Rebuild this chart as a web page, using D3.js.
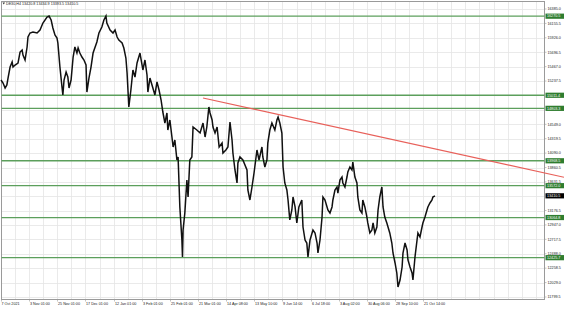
<!DOCTYPE html>
<html>
<head>
<meta charset="utf-8">
<script src="https://cdn.jsdelivr.net/npm/d3@7"></script>
<style>
  body { margin: 0; background: #fff; }
  text { font-family: "Liberation Sans", Arial, sans-serif; }
</style>
</head>
<body>
<div id="chart"></div>
<script>
const width = 564;
const height = 309;

// header
const symbolTitle = "DE30,H4";
const ohlcText = ["13420.8", "13434.9", "13393.5", "13410.5"];
const lastPrice = 13410.5;

// time axis labels, placed at bar numbers
const xLabels = ["7 Oct 2021", "3 Nov 01:00", "25 Nov 01:00", "17 Dec 01:00", "12 Jan 01:00",
  "3 Feb 01:00", "25 Feb 01:00", "21 Mar 01:00", "14 Apr 08:00", "13 May 10:00",
  "9 Jun 14:00", "6 Jul 18:00", "3 Aug 02:00", "30 Aug 06:00", "28 Sep 10:00", "21 Oct 14:00"];
const xLabelBars = [0, 96, 192, 288, 384, 480, 576, 672, 768, 864, 960, 1056, 1152, 1248, 1344, 1440];

// price scale labels
const yLabels = ["16385.0", "16155.5", "15926.0", "15696.5", "15467.0", "15237.5", "15008.0",
  "14778.5", "14549.0", "14319.5", "14090.0", "13860.5", "13631.5", "13402.0", "13176.5",
  "12947.0", "12717.5", "12488.0", "12258.5", "12029.0", "11799.5"];

// horizontal levels (green) and trend line (red)
const levels = [16270.5, 15011.4, 14803.3, 13968.5, 13572.0, 13064.8, 12425.7];
const trendBars = [689, 1497];
const trendPrices = [14968, 14140];

// price path, bar number and price
const bars = [0, 7, 14, 20, 24, 31, 38, 41, 48, 58, 65, 72, 75, 82, 89, 92, 99, 109, 123, 133,
  143, 157, 164, 171, 177, 184, 191, 194, 201, 208, 211, 215, 222, 228, 232, 239, 246, 252, 259, 263,
  269, 276, 283, 290, 293, 300, 307, 314, 327, 334, 344, 351, 358, 361, 372, 382, 389, 396, 402, 413,
  419, 426, 430, 436, 443, 450, 457, 464, 474,
  484, 491, 498, 501, 508, 515, 525, 532, 539, 546, 552, 559, 566, 569, 576, 583, 587, 593, 600, 604,
  610, 617, 619, 621, 627, 634, 638, 644, 651, 655, 668, 679, 689, 696, 702, 709, 713, 720, 723, 730,
  737, 744, 754, 757, 767, 774, 781, 788, 791, 798, 805, 808, 815, 825, 839, 842, 849, 856, 863, 873,
  880, 890, 893, 900, 907, 910, 917, 924, 934, 941, 945, 951, 958, 962, 968, 975, 979, 985, 992, 996,
  1003, 1009, 1016, 1026, 1030, 1037, 1043, 1047, 1054, 1064, 1071, 1078, 1081, 1088, 1095, 1098, 1105, 1112, 1115, 1122,
  1129, 1132, 1139, 1146, 1149, 1156, 1163, 1166, 1173, 1180, 1183, 1190, 1197, 1200, 1207, 1214, 1217, 1224, 1231, 1234,
  1241, 1248, 1251, 1258, 1265, 1269, 1275, 1282, 1286, 1292, 1299, 1303, 1309, 1316, 1320, 1326, 1333, 1337, 1344, 1350,
  1354, 1361, 1368, 1371, 1378, 1385, 1388, 1395, 1402, 1405, 1412, 1419, 1422, 1429, 1436, 1439, 1446, 1453, 1456, 1463,
  1470, 1473, 1480];
const prices = [15254, 15207, 15127, 15175, 15286, 15461, 15541, 15461, 15493, 15525, 15700, 15732, 15652, 15573, 15780, 15939, 16003, 16019, 16003, 16051,
  16162, 16257, 16273, 16210, 16082, 15971, 15923, 15844, 15461, 15143, 15016, 15254, 15382, 15302, 15127, 15254, 15620, 15780, 15684, 15764,
  15684, 15620, 15573, 15493, 15063, 15286, 15461, 15684, 15860, 16003, 16098, 16210, 16273, 16162, 16051, 16003, 16051, 15939, 15891, 15844,
  15764, 15605, 15366, 14825, 15095, 15414, 15302, 15525, 15684,
  15414, 15573, 15334, 15063, 15286, 15175, 15016, 15223, 15095, 14936, 14745, 14570, 14729, 14458, 14618, 14347, 14188, 14299, 13981, 14029,
  13233, 12707, 12437, 12866, 13137, 13662, 13392, 13981, 14029, 14506, 14458, 14411, 14570, 14347, 14506, 14825, 14729, 14618, 14506, 14411,
  14506, 14188, 14251, 14092, 14140, 14188, 14586, 14299, 14092, 13822, 13615, 13933, 14029, 13981, 13822, 13503, 13344, 13551, 13774, 14140,
  13981, 14188, 14029, 13869, 13981, 14251, 14458, 14570, 14458, 14618, 14665, 14570, 14411, 13869, 13615, 13503, 13344, 13026, 13185, 13392,
  13233, 12978, 13233, 13344, 12914, 12707, 12659, 12437, 12707, 12866, 12819, 12659, 12500, 12707, 13073, 13392, 13344, 13233, 13185, 13137,
  13233, 13344, 13503, 13551, 13455, 13662, 13710, 13615, 13551, 13710, 13790, 13869, 13822, 13949, 13710, 13615, 13392, 13185, 13137, 13344,
  13233, 13073, 12978, 12819, 12866, 12978, 12819, 12914, 13185, 13392, 13551, 13233, 13073, 12978, 12914, 12819, 12659, 12500, 12341, 12182,
  11959, 12070, 12277, 12500, 12659, 12548, 12389, 12277, 12182, 12070, 12437, 12707, 12819, 12755, 12914, 12978, 13073, 13185, 13233, 13296,
  13344, 13392, 13410];

const plot = { left: 1.5, top: 1.5, right: 544.5, bottom: 299.5 };
const fontSize = 3.7;

const svg = d3.select("#chart").append("svg")
  .attr("width", width)
  .attr("height", height)
  .style("display", "block");

svg.append("rect").attr("width", width).attr("height", height).attr("fill", "#fff");

const x = d3.scaleLinear().domain([0, 1852]).range([1, 544]);
const y = d3.scaleLinear().domain([11799.5, 16385]).range([297, 9]);

// grid
const grid = svg.append("g").attr("stroke", "#e4e4e4").attr("stroke-width", 0.8);
grid.selectAll("line.v")
  .data(d3.range(48, 1852, 48))
  .join("line")
  .attr("x1", d => Math.round(x(d)) + 0.5).attr("x2", d => Math.round(x(d)) + 0.5)
  .attr("y1", plot.top).attr("y2", plot.bottom);
grid.selectAll("line.h")
  .data(yLabels)
  .join("line")
  .attr("x1", plot.left).attr("x2", plot.right)
  .attr("y1", d => Math.round(y(+d)) + 0.5).attr("y2", d => Math.round(y(+d)) + 0.5);

// frame
svg.append("rect")
  .attr("x", plot.left).attr("y", plot.top)
  .attr("width", plot.right - plot.left).attr("height", plot.bottom - plot.top)
  .attr("fill", "none").attr("stroke", "#9a9a9a").attr("stroke-width", 1);

// green levels
svg.append("g").selectAll("line")
  .data(levels)
  .join("line")
  .attr("x1", plot.left).attr("x2", plot.right)
  .attr("y1", d => y(d)).attr("y2", d => y(d))
  .attr("stroke", "#5c9f5c").attr("stroke-width", 1.3);

// price path
const pts = bars.map((b, i) => [b, prices[i]]);
svg.append("path")
  .datum(pts)
  .attr("d", d3.line().x(d => x(d[0])).y(d => y(d[1])))
  .attr("fill", "none")
  .attr("stroke", "#111")
  .attr("stroke-width", 1.5)
  .attr("stroke-linejoin", "miter");

// red trend ray, extended to the right edge
const tx0 = x(trendBars[0]), ty0 = y(trendPrices[0]);
const slope = (y(trendPrices[1]) - ty0) / (x(trendBars[1]) - tx0);
svg.append("line")
  .attr("x1", tx0).attr("y1", ty0)
  .attr("x2", width).attr("y2", ty0 + slope * (width - tx0))
  .attr("stroke", "#e8605a").attr("stroke-width", 1.2);

// price scale labels (hidden where a tag sits)
const tagYs = levels.map(v => y(v)).concat([y(lastPrice)]);
const yAxis = svg.append("g").attr("font-size", fontSize).attr("fill", "#222");
yLabels.forEach(lbl => {
  const yy = y(+lbl);
  if (tagYs.some(t => Math.abs(t - yy) < 3.5)) return;
  yAxis.append("line")
    .attr("x1", plot.right).attr("x2", plot.right + 2)
    .attr("y1", yy).attr("y2", yy)
    .attr("stroke", "#9a9a9a").attr("stroke-width", 0.6);
  yAxis.append("text")
    .attr("x", plot.right + 3).attr("y", yy)
    .attr("dy", "0.35em")
    .text(lbl);
});

// tags
function tag(v, fill) {
  const yy = y(v);
  svg.append("rect")
    .attr("x", plot.right + 1).attr("y", yy - 2.6)
    .attr("width", 18.5).attr("height", 5.2)
    .attr("fill", fill);
  svg.append("text")
    .attr("x", plot.right + 2.5).attr("y", yy)
    .attr("dy", "0.35em")
    .attr("font-size", fontSize)
    .attr("fill", "#fff")
    .text(v.toFixed(1));
}
levels.forEach(v => tag(v, "#2f7d2f"));
tag(lastPrice, "#000");

// time axis labels
const xAxis = svg.append("g").attr("font-size", fontSize).attr("fill", "#222");
xLabels.forEach((lbl, i) => {
  const xx = Math.round(x(xLabelBars[i])) + 0.5;
  xAxis.append("line")
    .attr("x1", xx).attr("x2", xx)
    .attr("y1", plot.bottom).attr("y2", plot.bottom + 2)
    .attr("stroke", "#9a9a9a").attr("stroke-width", 0.6);
  xAxis.append("text")
    .attr("x", xx + (i === 0 ? 0 : 0.5)).attr("y", 304)
    .attr("dy", "0.35em")
    .text(lbl);
});

// header
svg.append("path")
  .attr("d", "M2.5,2.5 L5,2.5 L3.75,4.5 Z")
  .attr("fill", "#333");
svg.append("text")
  .attr("x", 6).attr("y", 4)
  .attr("dy", "0.35em")
  .attr("font-size", fontSize)
  .attr("fill", "#222")
  .text(symbolTitle + "  " + ohlcText.join(" "));
</script>
</body>
</html>
